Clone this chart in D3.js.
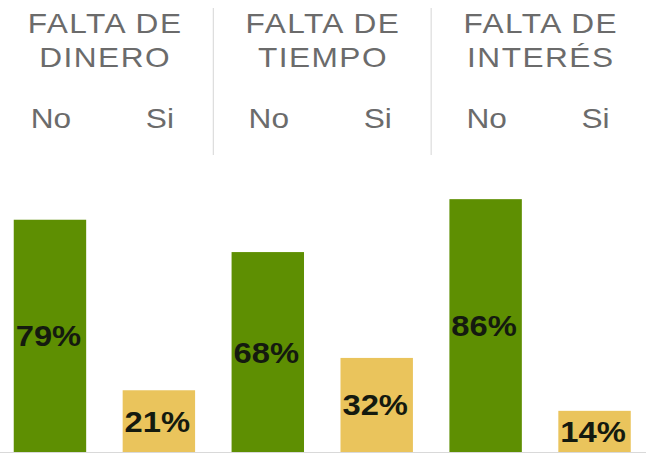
<!DOCTYPE html>
<html>
<head>
<meta charset="utf-8">
<script src="https://cdn.jsdelivr.net/npm/d3@7"></script>
<style>
  body { margin: 0; background: #fff; }
  svg { display: block; }
</style>
</head>
<body>
<script>
(function(){

    //chart data
    var groups = ["FALTA DE DINERO", "FALTA DE TIEMPO", "FALTA DE INTERÉS"];
    var groupLines = [["FALTA DE", "DINERO"], ["FALTA DE", "TIEMPO"], ["FALTA DE", "INTERÉS"]];
    var answers = ["No", "Si"];
    var noValues = [79, 68, 86];
    var siValues = [21, 32, 14];

    var width = 646, height = 455;
    var stretch = 1.13; //text in the source looks slightly widened

    var colors = { "No": "#5e8f02", "Si": "#eac45c" };

    //flatten to one row per bar
    var rows = [];
    groups.forEach(function(g, i){
        rows.push({ group: g, answer: answers[0], value: noValues[i] });
        rows.push({ group: g, answer: answers[1], value: siValues[i] });
    });

    var svg = d3.select("body")
        .append("svg")
        .attr("width", width)
        .attr("height", height);

    var x = d3.scaleBand()
        .domain(rows.map(function(d){ return d.group + "|" + d.answer; }))
        .range([-4.5, 649])
        .paddingInner(0.335)
        .paddingOuter(0.1675);

    var y = d3.scaleLinear()
        .domain([0, 100])
        .range([452, 158]);

    var groupCenter = function(g){
        return (x(g + "|No") + x(g + "|Si") + x.bandwidth()) / 2;
    };

    //separators between groups
    svg.selectAll(".sep")
        .data(groups.slice(1))
        .enter()
        .append("line")
        .attr("class", "sep")
        .attr("x1", function(g){ return x(g + "|No") - x.step() * x.paddingInner() / 2; })
        .attr("x2", function(g){ return x(g + "|No") - x.step() * x.paddingInner() / 2; })
        .attr("y1", 8)
        .attr("y2", 155)
        .attr("stroke", "#dcdcdc")
        .attr("stroke-width", 1.2);

    //group headers
    groups.forEach(function(g, i){
        groupLines[i].forEach(function(line, j){
            svg.append("text")
                .attr("transform", "translate(" + (groupCenter(g) + 0.7) + "," + (33 + j * 34) + ") scale(" + stretch + ",1)")
                .attr("text-anchor", "middle")
                .style("font-family", "'Liberation Sans', Arial, sans-serif")
                .style("font-size", "28px")
                .style("letter-spacing", "1.3px")
                .style("fill", "#6b6b6b")
                .text(line);
        });
    });

    //No / Si labels
    svg.selectAll(".ans")
        .data(rows)
        .enter()
        .append("text")
        .attr("class", "ans")
        .attr("transform", function(d){
            return "translate(" + (x(d.group + "|" + d.answer) + x.bandwidth() / 2 + 1) + ",128) scale(" + stretch + ",1)";
        })
        .attr("text-anchor", "middle")
        .style("font-family", "'Liberation Sans', Arial, sans-serif")
        .style("font-size", "28px")
        .style("fill", "#6b6b6b")
        .text(function(d){ return d.answer; });

    //bars
    svg.selectAll(".bar")
        .data(rows)
        .enter()
        .append("rect")
        .attr("class", "bar")
        .attr("x", function(d){ return x(d.group + "|" + d.answer); })
        .attr("width", x.bandwidth())
        .attr("y", function(d){ return y(d.value); })
        .attr("height", function(d){ return y(0) - y(d.value); })
        .style("fill", function(d){ return colors[d.answer]; });

    //value labels
    svg.selectAll(".val")
        .data(rows)
        .enter()
        .append("text")
        .attr("class", "val")
        .attr("transform", function(d){
            var cx = x(d.group + "|" + d.answer) + x.bandwidth() / 2 - 1.5;
            var cy = (y(d.value) + y(0)) / 2 + 10.5;
            return "translate(" + cx + "," + cy + ") scale(" + stretch + ",1)";
        })
        .attr("text-anchor", "middle")
        .style("font-family", "'Liberation Sans', Arial, sans-serif")
        .style("font-size", "29px")
        .style("font-weight", "bold")
        .style("fill", "#141a0f")
        .text(function(d){ return d.value + "%"; });

    //baseline
    svg.append("line")
        .attr("x1", 0)
        .attr("x2", width)
        .attr("y1", y(0) + 0.5)
        .attr("y2", y(0) + 0.5)
        .attr("stroke", "#d9d9d9")
        .attr("stroke-width", 1);

})();
</script>
</body>
</html>
